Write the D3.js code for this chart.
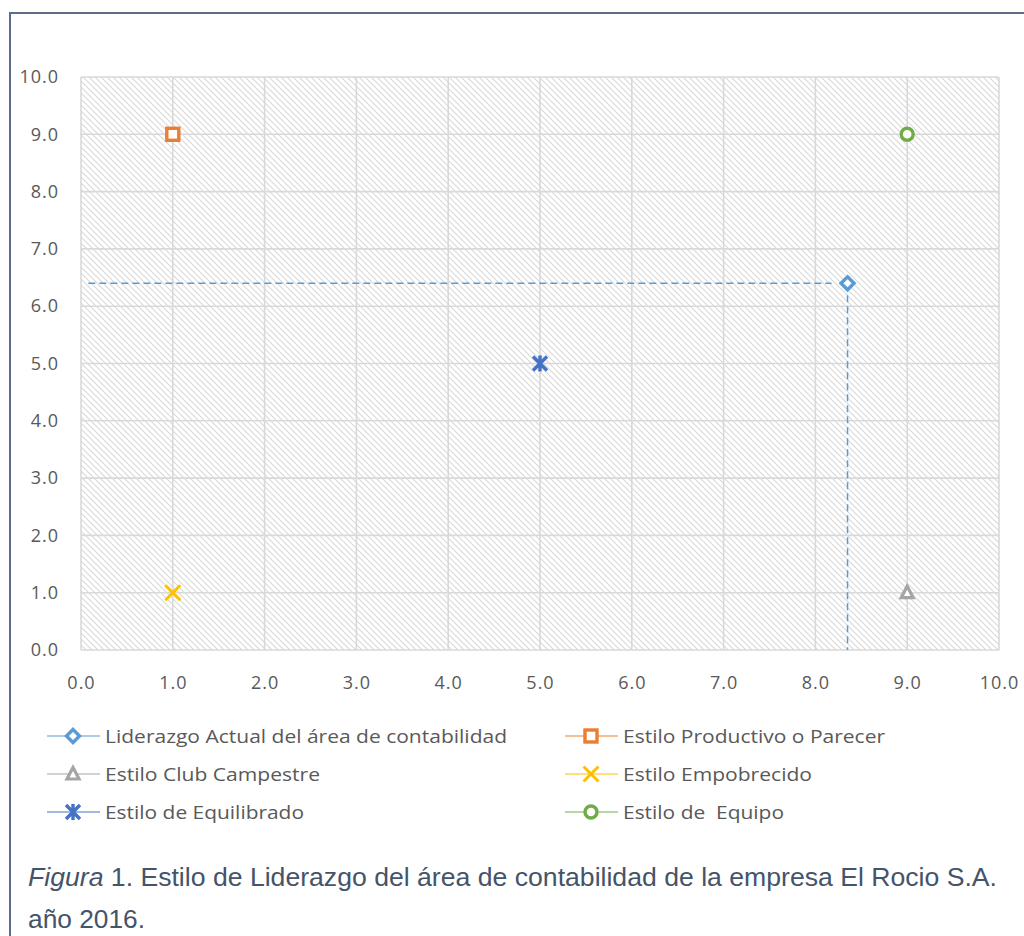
<!DOCTYPE html>
<html><head><meta charset="utf-8">
<script src="https://cdn.jsdelivr.net/npm/d3@7"></script>
<style>body{margin:0;background:#fff;} svg{display:block;}</style>
</head><body>
<script>
// ---- data ----
const seriesNames = ["Liderazgo Actual del área de contabilidad","Estilo Productivo o Parecer","Estilo Club Campestre","Estilo Empobrecido","Estilo de Equilibrado","Estilo de  Equipo"];
const xValues = [8.35, 1, 9, 1, 5, 9];
const yValues = [6.4, 9, 1, 1, 5, 9];
const markerTypes = ["diamond","square","triangle","x","asterisk","circle"];
const seriesColors = ["#5b9bd5","#ed7d31","#a5a5a5","#ffc000","#4472c4","#70ad47"];
const xTicks = [0,1,2,3,4,5,6,7,8,9,10];
const yTicks = [0,1,2,3,4,5,6,7,8,9,10];
const captionItalic = "Figura";
const captionLine1 = " 1. Estilo de Liderazgo del área de contabilidad de la empresa El Rocio S.A.";
const captionLine2 = "año 2016.";

const W=1024,H=936;
const svg=d3.select("body").append("svg").attr("width",W).attr("height",H);
// frame
svg.append("path").attr("d","M10,936 V13 H1024").attr("fill","none").attr("stroke","#5d6c8c").attr("stroke-width",2);

const x=d3.scaleLinear().domain([0,10]).range([81,999]);
const y=d3.scaleLinear().domain([0,10]).range([650,77]);

const defs=svg.append("defs");
const pat=defs.append("pattern").attr("id","hatch").attr("patternUnits","userSpaceOnUse")
  .attr("width",6).attr("height",6);
pat.append("path").attr("d","M-1,-1 L7,7 M-7,-1 L1,7 M5,-1 L13,7").attr("stroke","#d9d9d9").attr("stroke-width",1.2);

svg.append("rect").attr("x",x(0)).attr("y",y(10)).attr("width",x(10)-x(0)).attr("height",y(0)-y(10)).attr("fill","url(#hatch)");

// grid
const g=svg.append("g");
g.selectAll(".vg").data(xTicks).join("line").attr("x1",d=>x(d)).attr("x2",d=>x(d)).attr("y1",y(0)).attr("y2",y(10))
  .attr("stroke","#d9d9d9").attr("stroke-width",1.6);
g.selectAll(".hg").data(yTicks).join("line").attr("y1",d=>y(d)).attr("y2",d=>y(d)).attr("x1",x(0)).attr("x2",x(10))
  .attr("stroke","#d9d9d9").attr("stroke-width",1.6);

// axes labels
const tickFont="'Open Sans', sans-serif";
const xa=svg.append("g").attr("transform",`translate(0,${y(0)})`).call(d3.axisBottom(x).tickValues(xTicks).tickFormat(d3.format(".1f")).tickSize(0).tickPadding(26));
xa.select(".domain").remove();
xa.selectAll("text").attr("font-family",tickFont).attr("font-size",18).attr("fill","#595959").attr("letter-spacing",1);
const ya=svg.append("g").attr("transform",`translate(${x(0)},0)`).call(d3.axisLeft(y).tickValues(yTicks).tickFormat(d3.format(".1f")).tickSize(0).tickPadding(22));
ya.select(".domain").remove();
ya.selectAll("text").attr("font-family",tickFont).attr("font-size",18).attr("fill","#595959").attr("letter-spacing",1);

// dashed reference lines for first series
const cx=x(xValues[0]), cy=y(yValues[0]);
svg.append("line").attr("x1",x(0.08)).attr("x2",cx-16).attr("y1",cy).attr("y2",cy)
  .attr("stroke",seriesColors[0]).attr("stroke-width",1.5).attr("stroke-dasharray","7,4");
svg.append("line").attr("x1",cx).attr("x2",cx).attr("y1",cy+12).attr("y2",y(0))
  .attr("stroke",seriesColors[0]).attr("stroke-width",1.5).attr("stroke-dasharray","7,4");

function drawMarker(sel,type,color,px,py){
  const m=sel.append("g").attr("transform",`translate(${px},${py})`);
  if(type==="diamond") m.append("path").attr("d","M0,-6.5 L6.5,0 L0,6.5 L-6.5,0Z").attr("fill","#fff").attr("stroke",color).attr("stroke-width",3.4);
  if(type==="square") m.append("rect").attr("x",-6).attr("y",-6).attr("width",12).attr("height",12).attr("fill","#fff").attr("stroke",color).attr("stroke-width",3.4);
  if(type==="triangle") m.append("path").attr("d","M0,-6.5 L6,5 L-6,5Z").attr("fill","#fff").attr("stroke",color).attr("stroke-width",3.2);
  if(type==="circle") m.append("circle").attr("r",6).attr("fill","#fff").attr("stroke",color).attr("stroke-width",3.4);
  if(type==="x") m.append("path").attr("d","M-7.5,-7.5 L7.5,7.5 M-7.5,7.5 L7.5,-7.5").attr("stroke",color).attr("stroke-width",3);
  if(type==="asterisk") m.append("path").attr("d","M-7,-7 L7,7 M-7,7 L7,-7 M0,-8 V8").attr("stroke",color).attr("stroke-width",3.4);
}
xValues.forEach((v,i)=>drawMarker(svg,markerTypes[i],seriesColors[i],x(v),y(yValues[i])));

// legend
const legX=[47,565], legY=[736,774,812];
const legendEnds=[507,885,320,812,304,784];
seriesNames.forEach((n,i)=>{
  const col=i%2,row=Math.floor(i/2);
  const lx=legX[col],ly=legY[row];
  svg.append("line").attr("x1",lx).attr("x2",lx+53).attr("y1",ly).attr("y2",ly).attr("stroke",seriesColors[i]).attr("stroke-width",1.2);
  drawMarker(svg,markerTypes[i],seriesColors[i],lx+26,ly);
  svg.append("text").attr("x",lx+58).attr("y",ly+6.5).text(n).attr("font-family",tickFont).attr("font-size",19)
    .attr("fill","#595959").attr("textLength",legendEnds[i]-(lx+58)).attr("lengthAdjust","spacingAndGlyphs").style("white-space","pre");
});

// caption
const cap=svg.append("text").attr("x",28).attr("y",886).attr("font-family","'Liberation Sans', Arial, sans-serif").attr("font-size",25).attr("fill","#44546a").attr("textLength",969).attr("lengthAdjust","spacingAndGlyphs");
cap.append("tspan").attr("font-style","italic").text(captionItalic);
cap.append("tspan").text(captionLine1);
svg.append("text").attr("x",28).attr("y",928).attr("font-family","'Liberation Sans', Arial, sans-serif").attr("font-size",25).attr("fill","#44546a").attr("textLength",117).attr("lengthAdjust","spacingAndGlyphs").text(captionLine2);
</script>
</body></html>
